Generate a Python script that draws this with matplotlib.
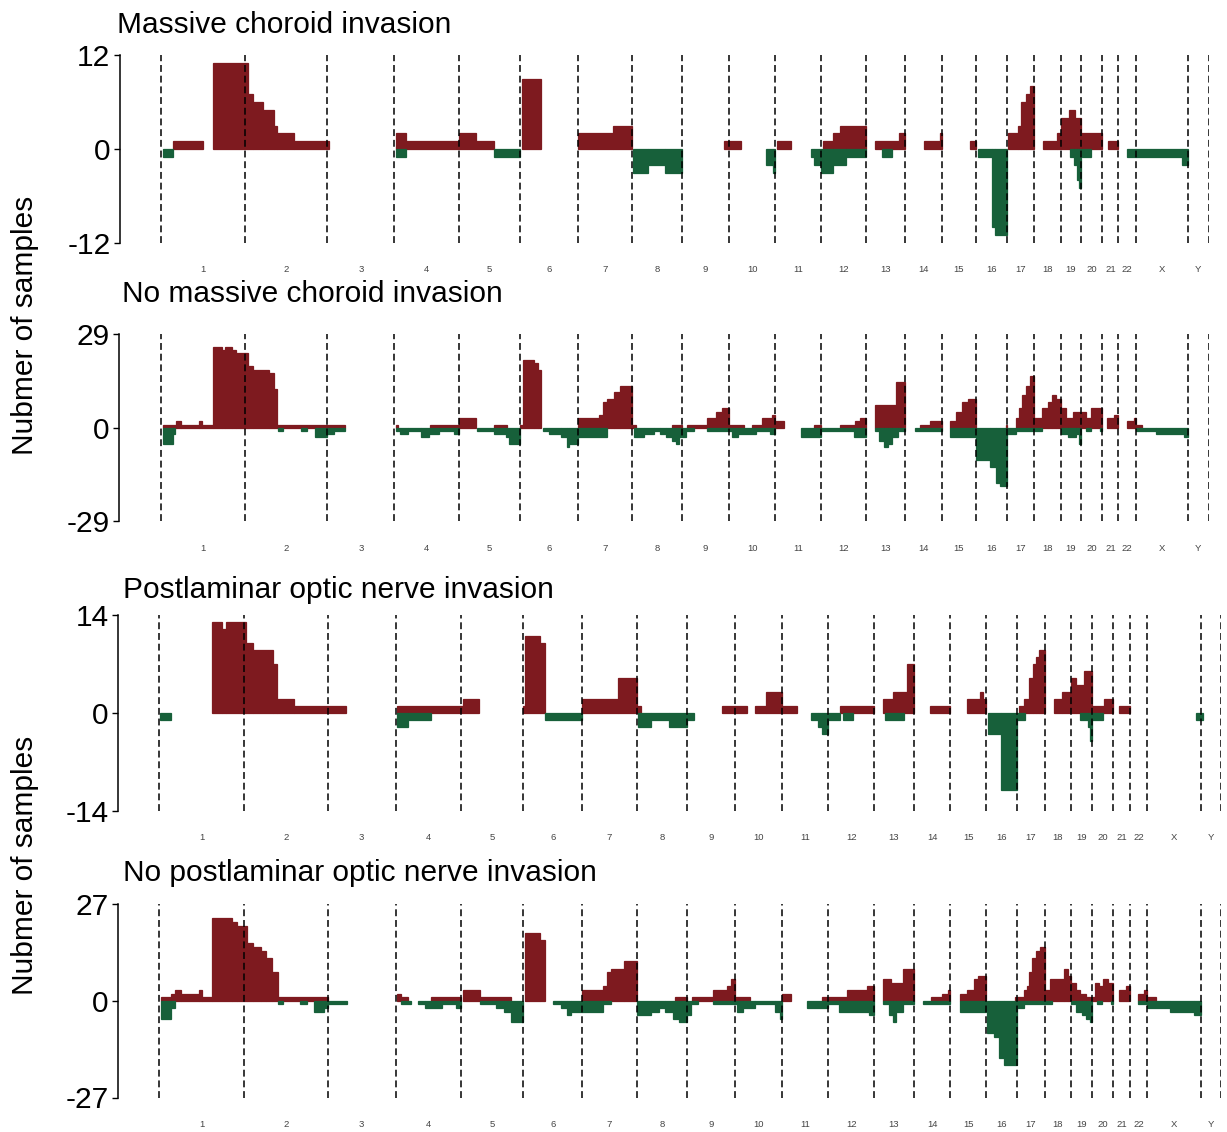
import numpy as np
import matplotlib
matplotlib.use("Agg")
import matplotlib.pyplot as plt

plt.rcParams['font.family'] = ['Liberation Sans', 'DejaVu Sans']

chroms = ['1', '2', '3', '4', '5', '6', '7', '8', '9', '10', '11', '12',
          '13', '14', '15', '16', '17', '18', '19', '20', '21', '22', 'X', 'Y']
# chromosome lengths in Mb (hg19)
chrom_len = [249.3, 243.2, 198.0, 191.2, 180.9, 171.1, 159.1, 146.4, 141.2, 135.5,
             135.0, 133.9, 115.2, 107.3, 102.5, 90.4, 81.2, 78.1, 59.1, 63.0,
             48.1, 51.3, 155.3, 59.4]

# segments: (chromosome, start Mb, end Mb, number of samples)
mc_gain = [('1', 36, 127, 1), ('1', 155, 249.3, 11),
           ('2', 0, 8, 11), ('2', 8, 25, 7), ('2', 25, 53, 6), ('2', 53, 85, 5),
           ('2', 85, 96, 3), ('2', 96, 146, 2), ('2', 146, 243.2, 1),
           ('3', 0, 6, 1),
           ('4', 4, 35, 2), ('4', 35, 191.2, 1),
           ('5', 0, 51, 2), ('5', 51, 104, 1),
           ('6', 4, 62, 9),
           ('7', 0, 104, 2), ('7', 104, 159.1, 3),
           ('9', 125, 141.2, 1), ('10', 0, 34, 1), ('11', 6, 46, 1),
           ('12', 5, 35, 1), ('12', 35, 55, 2), ('12', 55, 133.9, 3),
           ('13', 25, 97, 1), ('13', 97, 115.2, 2),
           ('14', 55, 102, 1), ('14', 102, 107.3, 2),
           ('15', 84, 102.5, 1),
           ('17', 2, 32, 2), ('17', 32, 43, 3), ('17', 43, 55, 6), ('17', 55, 67, 7),
           ('17', 67, 81.2, 8),
           ('18', 25, 66, 1), ('18', 66, 78.1, 2),
           ('19', 0, 24, 4), ('19', 24, 42, 5), ('19', 42, 59.1, 4),
           ('20', 0, 63, 2), ('21', 16, 48.1, 1)]
mc_loss = [('1', 6, 36, -1), ('4', 4, 35, -1), ('5', 104, 180.9, -1),
           ('8', 2, 47, -3), ('8', 47, 96, -2), ('8', 96, 146.4, -3),
           ('10', 108, 128, -2), ('10', 128, 135.5, -3),
           ('11', 105, 114, -1), ('11', 114, 135, -2),
           ('12', 0, 35, -3), ('12', 35, 73, -2), ('12', 73, 133.9, -1),
           ('13', 45, 76, -1),
           ('16', 5, 46, -1), ('16', 46, 55, -10), ('16', 55, 90.4, -11),
           ('19', 27, 39, -1), ('19', 39, 47, -2), ('19', 47, 54, -4), ('19', 54, 59.1, -5),
           ('20', 3, 30, -1), ('22', 25, 51.3, -1),
           ('X', 0, 136, -1), ('X', 136, 155.3, -2)]

nmc_gain = [('1', 6, 45, 1), ('1', 45, 62, 2), ('1', 62, 115, 1), ('1', 115, 124, 2),
            ('1', 124, 155, 1), ('1', 155, 183, 25), ('1', 183, 191, 24),
            ('1', 191, 211, 25), ('1', 211, 222, 24), ('1', 222, 249.3, 23),
            ('2', 0, 8, 23), ('2', 8, 25, 19), ('2', 25, 70, 18), ('2', 70, 85, 17),
            ('2', 85, 96, 12), ('2', 96, 243.2, 1),
            ('3', 0, 53, 1),
            ('4', 4, 12, 1), ('4', 106, 191.2, 1),
            ('5', 0, 51, 3), ('5', 104, 143, 1),
            ('6', 0, 8, 1), ('6', 8, 42, 21), ('6', 42, 53, 20), ('6', 53, 62, 18),
            ('7', 0, 61, 3), ('7', 61, 73, 4), ('7', 73, 84, 8), ('7', 84, 105, 9),
            ('7', 105, 124, 11), ('7', 124, 159.1, 13),
            ('8', 0, 12, 1), ('8', 117, 146.4, 1),
            ('9', 15, 75, 1), ('9', 75, 101, 3), ('9', 101, 119, 5), ('9', 119, 141.2, 6),
            ('10', 0, 44, 1), ('10', 67, 97, 1), ('10', 97, 126, 3), ('10', 126, 135.5, 4),
            ('11', 0, 26, 2), ('11', 114, 135, 1),
            ('12', 55, 102, 1), ('12', 102, 114, 2), ('12', 114, 133.9, 3),
            ('13', 25, 88, 7), ('13', 88, 115.2, 14),
            ('14', 44, 73, 1), ('14', 73, 107.3, 2),
            ('15', 25, 42, 2), ('15', 42, 60, 5), ('15', 60, 78, 8), ('15', 78, 102.5, 9),
            ('16', 87, 90.4, 1),
            ('17', 26, 35, 3), ('17', 35, 46, 6), ('17', 46, 55, 10), ('17', 55, 67, 13),
            ('17', 67, 81.2, 16),
            ('18', 0, 22, 3), ('18', 22, 40, 6), ('18', 40, 52, 8), ('18', 52, 64, 10),
            ('18', 64, 78.1, 9),
            ('19', 0, 15, 6), ('19', 15, 36, 3), ('19', 36, 59.1, 5),
            ('20', 0, 15, 5), ('20', 15, 30, 3), ('20', 30, 63, 6),
            ('21', 14, 34, 3), ('21', 34, 48.1, 4),
            ('22', 25, 45, 2), ('22', 45, 51.3, 3),
            ('X', 0, 18, 1)]
nmc_loss = [('1', 6, 36, -5), ('1', 36, 44, -2),
            ('2', 98, 113, -1), ('2', 166, 183, -1), ('2', 206, 243.2, -3),
            ('3', 0, 19, -2), ('3', 19, 53, -1),
            ('4', 4, 18, -1), ('4', 18, 41, -2), ('4', 41, 80, -1), ('4', 80, 103, -3),
            ('4', 103, 131, -2), ('4', 131, 176, -1), ('4', 176, 191.2, -2),
            ('5', 53, 104, -1), ('5', 104, 138, -2), ('5', 138, 149, -3), ('5', 149, 180.9, -5),
            ('6', 66, 86, -1), ('6', 86, 120, -2), ('6', 120, 137, -3), ('6', 137, 143, -6),
            ('6', 143, 171.1, -5),
            ('7', 0, 84, -3),
            ('8', 6, 35, -3), ('8', 35, 64, -2), ('8', 64, 82, -1), ('8', 82, 99, -2),
            ('8', 99, 117, -3), ('8', 117, 129, -4), ('8', 129, 140, -5), ('8', 140, 146.4, -3),
            ('9', 0, 12, -3), ('9', 12, 36, -1), ('9', 75, 141.2, -1),
            ('10', 0, 8, -1), ('10', 8, 26, -3), ('10', 26, 79, -2), ('10', 79, 120, -1),
            ('10', 120, 135.5, -2),
            ('11', 75, 135, -3),
            ('12', 0, 97, -1), ('12', 97, 133.9, -3),
            ('13', 25, 39, -1), ('13', 39, 52, -4), ('13', 52, 64, -6), ('13', 64, 76, -5),
            ('13', 76, 94, -3), ('13', 94, 115.2, -1),
            ('14', 28, 107.3, -1),
            ('15', 25, 102.5, -3),
            ('16', 0, 40, -10), ('16', 40, 57, -12), ('16', 57, 69, -17), ('16', 69, 90.4, -18),
            ('17', 0, 26, -2), ('17', 26, 81.2, -1),
            ('18', 0, 22, -1),
            ('19', 0, 21, -2), ('19', 21, 45, -3), ('19', 45, 54, -2), ('19', 54, 59.1, -5),
            ('20', 15, 30, -1), ('20', 56, 63, -1),
            ('X', 0, 59, -1), ('X', 59, 142, -2), ('X', 142, 155.3, -3)]

pl_gain = [('1', 155, 185, 13), ('1', 185, 196, 12), ('1', 196, 249.3, 13),
           ('2', 0, 5, 13), ('2', 5, 25, 10), ('2', 25, 84, 9), ('2', 84, 95, 7),
           ('2', 95, 144, 2), ('2', 144, 243.2, 1),
           ('3', 0, 52, 1),
           ('4', 3, 191.2, 1),
           ('5', 0, 6, 1), ('5', 6, 51, 2),
           ('6', 0, 4, 1), ('6', 4, 49, 11), ('6', 49, 63, 10),
           ('7', 0, 106, 2), ('7', 106, 159.1, 5),
           ('8', 0, 14, 1), ('9', 103, 141.2, 1),
           ('10', 0, 35, 1), ('10', 58, 88, 1), ('10', 88, 135.5, 3),
           ('11', 0, 45, 1), ('12', 35, 133.9, 1),
           ('13', 25, 54, 2), ('13', 54, 95, 3), ('13', 95, 115.2, 7),
           ('14', 47, 107.3, 1),
           ('15', 47, 85, 2), ('15', 85, 94, 3), ('15', 94, 102.5, 2),
           ('17', 6, 22, 1), ('17', 22, 37, 2), ('17', 37, 48, 5), ('17', 48, 57, 7),
           ('17', 57, 66, 8), ('17', 66, 81.2, 9),
           ('18', 27, 50, 2), ('18', 50, 78.1, 3),
           ('19', 0, 13, 5), ('19', 13, 36, 4), ('19', 36, 59.1, 6),
           ('20', 0, 35, 1), ('20', 35, 63, 2), ('21', 16, 48.1, 1)]
pl_loss = [('1', 4, 36, -1),
           ('4', 3, 35, -2), ('4', 35, 104, -1),
           ('6', 63, 171.1, -1),
           ('8', 5, 43, -2), ('8', 43, 95, -1), ('8', 95, 146.4, -2),
           ('9', 0, 22, -1),
           ('11', 84, 104, -1), ('11', 104, 116, -2), ('11', 116, 135, -3),
           ('12', 0, 35, -1), ('12', 44, 73, -1),
           ('13', 33, 86, -1),
           ('16', 6, 46, -3), ('16', 46, 90.4, -11),
           ('17', 0, 25, -1),
           ('19', 24, 48, -1), ('19', 48, 53, -2), ('19', 53, 59.1, -4),
           ('20', 0, 33, -1),
           ('X', 141, 155.3, -1), ('Y', 0, 7, -1)]

npl_gain = [('1', 6, 36, 1), ('1', 36, 47, 2), ('1', 47, 66, 3), ('1', 66, 118, 2),
            ('1', 118, 127, 3), ('1', 127, 155, 1), ('1', 155, 213, 23),
            ('1', 213, 227, 22), ('1', 227, 249.3, 21),
            ('2', 0, 8, 21), ('2', 8, 25, 16), ('2', 25, 50, 15), ('2', 50, 64, 14),
            ('2', 64, 80, 12), ('2', 80, 97, 8), ('2', 97, 243.2, 1),
            ('4', 3, 15, 2), ('4', 15, 37, 1), ('4', 104, 191.2, 1),
            ('5', 6, 54, 3), ('5', 54, 146, 1),
            ('6', 4, 49, 19), ('6', 49, 63, 17),
            ('7', 0, 61, 3), ('7', 61, 74, 4), ('7', 74, 83, 8), ('7', 83, 122, 9),
            ('7', 122, 159.1, 11),
            ('8', 113, 146.4, 1),
            ('9', 16, 75, 1), ('9', 75, 116, 3), ('9', 116, 128, 4), ('9', 128, 141.2, 6),
            ('10', 0, 44, 1),
            ('11', 0, 26, 2), ('11', 116, 135, 1),
            ('12', 0, 56, 1), ('12', 56, 114, 3), ('12', 114, 133.9, 4),
            ('13', 25, 50, 6), ('13', 50, 85, 5), ('13', 85, 115.2, 9),
            ('14', 52, 82, 1), ('14', 82, 99, 2), ('14', 99, 107.3, 3),
            ('15', 27, 48, 2), ('15', 48, 68, 3), ('15', 68, 79, 6), ('15', 79, 102.5, 7),
            ('16', 87, 90.4, 1),
            ('17', 0, 20, 1), ('17', 20, 29, 3), ('17', 29, 37, 4), ('17', 37, 46, 8),
            ('17', 46, 55, 12), ('17', 55, 67, 14), ('17', 67, 81.2, 15),
            ('18', 0, 15, 3), ('18', 15, 56, 6), ('18', 56, 67, 9), ('18', 67, 78.1, 7),
            ('19', 0, 13, 5), ('19', 13, 24, 3), ('19', 24, 42, 2), ('19', 42, 59.1, 1),
            ('20', 0, 9, 1), ('20', 9, 21, 5), ('20', 21, 33, 4), ('20', 33, 49, 6),
            ('20', 49, 63, 5),
            ('21', 16, 36, 3), ('21', 36, 48.1, 4),
            ('22', 25, 42, 2), ('22', 42, 49, 3), ('22', 49, 51.3, 1),
            ('X', 0, 24, 1)]
npl_loss = [('1', 6, 36, -5), ('1', 36, 47, -2),
            ('2', 97, 114, -1), ('2', 163, 183, -1), ('2', 203, 231, -3), ('2', 231, 243.2, -2),
            ('3', 0, 55, -1),
            ('4', 15, 46, -1), ('4', 66, 85, -1), ('4', 85, 135, -2), ('4', 135, 177, -1),
            ('4', 177, 191.2, -2),
            ('5', 54, 101, -1), ('5', 101, 124, -2), ('5', 124, 146, -3), ('5', 146, 180.9, -6),
            ('6', 86, 110, -1), ('6', 110, 127, -2), ('6', 127, 138, -4), ('6', 138, 171.1, -3),
            ('7', 0, 61, -3), ('7', 61, 83, -1),
            ('8', 2, 43, -4), ('8', 43, 66, -3), ('8', 66, 84, -2), ('8', 84, 107, -3),
            ('8', 107, 124, -5), ('8', 124, 146.4, -6),
            ('9', 0, 13, -4), ('9', 13, 33, -1), ('9', 75, 141.2, -1),
            ('10', 0, 6, -1), ('10', 6, 23, -3), ('10', 23, 58, -2), ('10', 58, 117, -1),
            ('10', 117, 129, -3), ('10', 129, 135.5, -5),
            ('11', 74, 135, -2),
            ('12', 0, 33, -1), ('12', 33, 120, -3), ('12', 120, 133.9, -4),
            ('13', 25, 44, -1), ('13', 44, 56, -4), ('13', 56, 64, -6), ('13', 64, 85, -3),
            ('13', 85, 115.2, -1),
            ('14', 27, 107.3, -1),
            ('15', 27, 102.5, -3),
            ('16', 3, 23, -9), ('16', 23, 40, -10), ('16', 40, 54, -16), ('16', 54, 90.4, -18),
            ('17', 0, 20, -2), ('17', 20, 81.2, -1),
            ('18', 0, 21, -1),
            ('19', 0, 13, -1), ('19', 13, 30, -3), ('19', 30, 42, -4), ('19', 42, 53, -5),
            ('19', 53, 59.1, -6),
            ('20', 17, 29, -1), ('20', 56, 63, -1),
            ('22', 25, 51.3, -1),
            ('X', 0, 65, -2), ('X', 65, 136, -3), ('X', 136, 155.3, -4)]

titles = ["Massive choroid invasion", "No massive choroid invasion",
          "Postlaminar optic nerve invasion", "No postlaminar optic nerve invasion"]
y_max = [12, 29, 14, 27]
gains = [mc_gain, nmc_gain, pl_gain, npl_gain]
losses = [mc_loss, nmc_loss, pl_loss, npl_loss]

red = "#7e1a1f"
green = "#17603a"

W, H = 1227, 1132
# pixel layout: spine x, genome start x, genome end x, top y, bottom y, title x, title baseline
layout = [(119.5, 160.5, 1208.5, 55, 243, 117, 33),
          (118.5, 160.5, 1208.5, 334, 521.5, 122, 302),
          (117.5, 158.7, 1221, 615, 811, 123, 598),
          (117.5, 158.7, 1221, 904, 1097.5, 123, 881)]

offsets = dict(zip(chroms, np.concatenate([[0], np.cumsum(chrom_len)[:-1]])))
total = float(np.sum(chrom_len))
bounds = np.concatenate([[0], np.cumsum(chrom_len)])
mids = bounds[:-1] + np.array(chrom_len) / 2

fig = plt.figure(figsize=(W / 100, H / 100), dpi=100)

for i in range(4):
    sx, x0, x1, ytop, ybot, tx, ty = layout[i]
    m = y_max[i]
    scale = (x1 - x0) / total
    ax = fig.add_axes([sx / W, 1 - ybot / H, (x1 - sx) / W, (ybot - ytop) / H])
    ax.set_xlim(-(x0 - sx) / scale, total)
    ax.set_ylim(-m, m)

    for seg, col in ((gains[i], red), (losses[i], green)):
        xs = [offsets[c] + a for c, a, b, v in seg]
        ws = [b - a for c, a, b, v in seg]
        hs = [v for c, a, b, v in seg]
        ax.bar(xs, hs, width=ws, align='edge', color=col, edgecolor=col, linewidth=0.9)

    ax.vlines(bounds, -m, m, colors='black', linestyles=(0, (4.5, 2.5)), linewidth=1.1)

    for s in ['top', 'right', 'bottom']:
        ax.spines[s].set_visible(False)
    ax.spines['left'].set_linewidth(1.1)
    ax.set_yticks([-m, 0, m], ['-' + str(m), '0', str(m)])
    ax.tick_params(axis='y', labelsize=21.5, length=4.5, width=1.0, pad=2)
    ax.set_xticks(mids, chroms)
    ax.tick_params(axis='x', length=0, labelsize=6.8, pad=16, labelcolor='#444444')

    fig.text(tx / W, 1 - ty / H, titles[i], fontsize=21.5, ha='left', va='baseline')

fig.text(25 / W, 1 - 325 / H, "Nubmer of samples", rotation=90, fontsize=21.5,
         ha='center', va='center')
fig.text(25 / W, 1 - 865 / H, "Nubmer of samples", rotation=90, fontsize=21.5,
         ha='center', va='center')

plt.savefig("out.png", dpi=100)
